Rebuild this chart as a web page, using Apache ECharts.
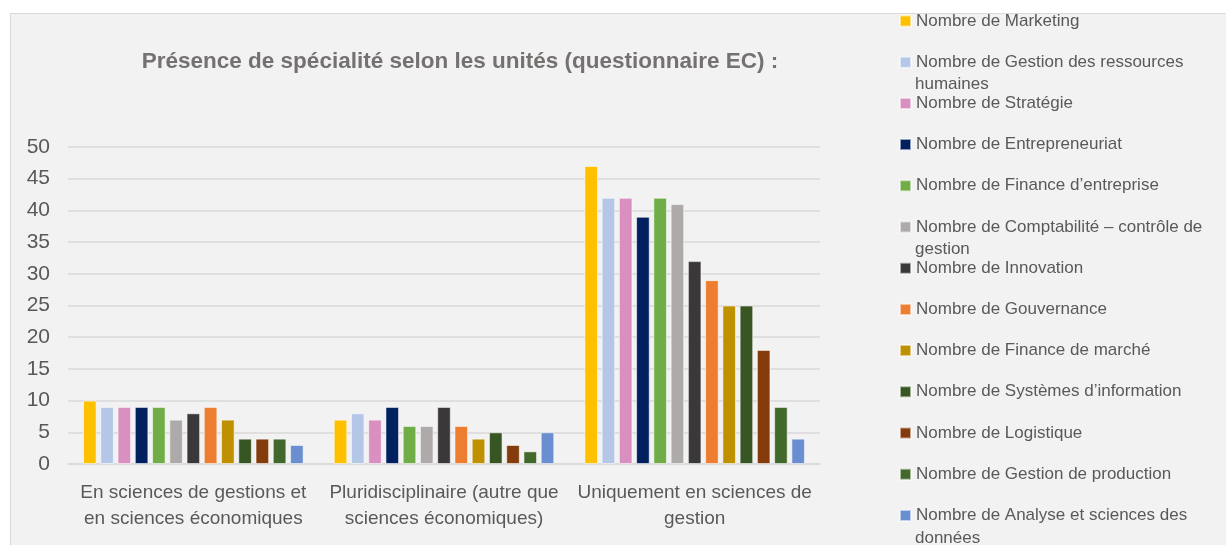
<!DOCTYPE html>
<html>
<head>
<meta charset="utf-8">
<script src="https://cdn.jsdelivr.net/npm/echarts@6/dist/echarts.min.js"></script>
<style>
  html, body { margin: 0; padding: 0; background: #ffffff; }
  #panel { position: absolute; left: 10px; top: 13px; width: 1216px; height: 532px;
           background: #f2f2f2; border-left: 1px solid #d9d9d9; border-top: 1px solid #d9d9d9; box-sizing: border-box; }
  #chart { position: absolute; left: 0; top: 0; width: 1226px; height: 545px; }
</style>
</head>
<body>
<div id="panel"></div>
<div id="chart"></div>
<script>
const categories = [
  'En sciences de gestions et\nen sciences économiques',
  'Pluridisciplinaire (autre que\nsciences économiques)',
  'Uniquement en sciences de\ngestion'
];

const seriesNames = [
  'Nombre de Marketing',
  'Nombre de Gestion des ressources humaines',
  'Nombre de Stratégie',
  'Nombre de Entrepreneuriat',
  'Nombre de Finance d’entreprise',
  'Nombre de Comptabilité – contrôle de gestion',
  'Nombre de Innovation',
  'Nombre de Gouvernance',
  'Nombre de Finance de marché',
  'Nombre de Systèmes d’information',
  'Nombre de Logistique',
  'Nombre de Gestion de production',
  'Nombre de Analyse et sciences des données'
];

const colors = [
  '#ffc000', '#b4c7e7', '#da8fc1', '#002060', '#70ad47', '#aeaaaa', '#3a3838',
  '#ed7d31', '#bf9000', '#375623', '#843c0c', '#43682b', '#6a8fd0'
];

// one array per category, in series order
const gestionEtEco = [10, 9, 9, 9, 9, 7, 8, 9, 7, 4, 4, 4, 3];
const pluridisciplinaire = [7, 8, 7, 9, 6, 6, 9, 6, 4, 5, 3, 2, 5];
const uniquementGestion = [47, 42, 42, 39, 42, 41, 32, 29, 25, 25, 18, 9, 4];

const yTicks = { min: 0, max: 50, interval: 5 };

// legend labels are wrapped: first line in the legend, rest as text below
const legendFirstLine = {
  'Nombre de Gestion des ressources humaines': 'Nombre de Gestion des ressources',
  'Nombre de Comptabilité – contrôle de gestion': 'Nombre de Comptabilité – contrôle de',
  'Nombre de Analyse et sciences des données': 'Nombre de Analyse et sciences des'
};
const legendSecondLine = [
  { index: 1, text: 'humaines' },
  { index: 5, text: 'gestion' },
  { index: 12, text: 'données' }
];

const chart = echarts.init(document.getElementById('chart'));

const legendTop = 12;
const legendStep = 41.2;
const legendFont = 17;
const fontFamily = '"Liberation Sans", Arial, sans-serif';

const option = {
  animation: false,
  textStyle: { fontFamily: fontFamily },
  title: {
    text: 'Présence de spécialité selon les unités (questionnaire EC) :',
    left: 455,
    top: 45,
    textAlign: 'center',
    textStyle: { color: '#767171', fontSize: 22.5, fontWeight: 'bold', fontFamily: fontFamily }
  },
  legend: {
    orient: 'vertical',
    left: 899,
    top: legendTop,
    padding: 0,
    itemWidth: 11,
    itemHeight: 11,
    itemGap: legendStep - 18,
    icon: 'rect',
    data: seriesNames,
    formatter: name => legendFirstLine[name] || name,
    textStyle: { color: '#595959', fontSize: legendFont, lineHeight: 18 }
  },
  graphic: legendSecondLine.map(d => ({
    type: 'text',
    left: 915,
    top: legendTop + d.index * legendStep + 9 + 24 - 10,
    style: { text: d.text, fill: '#595959', font: legendFont + 'px ' + fontFamily }
  })),
  grid: { left: 68, right: 406, top: 147, bottom: 81 },
  xAxis: {
    type: 'category',
    data: categories,
    axisLine: { lineStyle: { color: '#d9d9d9', width: 1.5 } },
    axisTick: { show: false },
    axisLabel: { color: '#595959', fontSize: 19, lineHeight: 26, margin: 16, interval: 0 }
  },
  yAxis: {
    type: 'value',
    min: yTicks.min,
    max: yTicks.max,
    interval: yTicks.interval,
    axisLine: { show: false },
    axisTick: { show: false },
    axisLabel: { color: '#595959', fontSize: 21, margin: 18 },
    splitLine: { lineStyle: { color: '#d9d9d9', width: 1.5 } }
  },
  series: seriesNames.map((name, i) => ({
    name: name,
    type: 'bar',
    barGap: '27%',
    barCategoryGap: '12%',
    itemStyle: { color: colors[i], borderColor: 'rgba(255,255,255,0.55)', borderWidth: 1 },
    data: [gestionEtEco[i], pluridisciplinaire[i], uniquementGestion[i]]
  }))
};

chart.setOption(option);
</script>
</body>
</html>
